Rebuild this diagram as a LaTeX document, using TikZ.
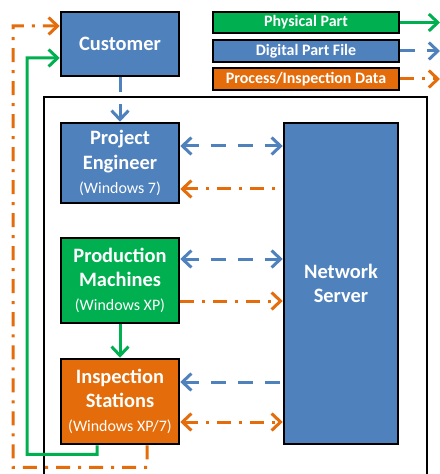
\documentclass[tikz,border=0pt]{standalone}
\usepackage{fontspec}
\setmainfont{Carlito}
\usetikzlibrary{arrows.meta,calc}
\definecolor{cblue}{RGB}{79,129,189}
\definecolor{cgreen}{RGB}{0,176,80}
\definecolor{corange}{RGB}{228,108,10}
\newcommand\winver[1]{{\fontsize{16}{20}\selectfont\mdseries #1}}
\tikzset{
  box/.style={draw=black, line width=2.5bp, text=white, align=center,
    font=\fontsize{20.5}{24.5}\selectfont\bfseries, minimum width=118bp, inner sep=0pt},
  legbox/.style={draw=black, line width=2.5bp, text=white,
    font=\fontsize{16}{18}\selectfont\bfseries, minimum width=186bp,
    minimum height=21bp, inner sep=0pt},
  barb/.tip={Straight Barb[length=9bp,width=17bp]},
  physical/.style={draw=cgreen, line width=3bp},
  digital/.style={draw=cblue, line width=3bp, dash pattern=on 15bp off 12bp},
  process/.style={draw=corange, line width=3bp, dash pattern=on 14bp off 8bp on 3bp off 8bp},
  frame/.style={draw=black, line width=2bp},
}
\begin{document}
\begin{tikzpicture}[x=1bp,y=-1bp]
\useasboundingbox (0,0) rectangle (440,474);
\clip (0,0) rectangle (440,474);
\fill[white] (0,0) rectangle (440,474);
% frame
\draw[frame] (44,97) rectangle (427,500);
% nodes
\node[box, fill=cblue, minimum height=64bp] (cust) at (120,44) {Customer};
\node[box, fill=cblue, minimum height=80bp] (pe) at (120,163) {Project\\Engineer\\\winver{(Windows 7)}};
\node[box, fill=cgreen, minimum height=85bp] (pm) at (120,280.5) {Production\\Machines\\\winver{(Windows XP)}};
\node[box, fill=corange, minimum height=85bp] (is) at (120,401.5) {Inspection\\Stations\\\winver{(Windows XP/7)}};
\node[box, fill=cblue, minimum width=114bp, minimum height=321bp] (ns) at (341,283.5) {Network\\Server};
% legend
\node[legbox, fill=cgreen] (lp) at (306,22.5) {Physical Part};
\node[legbox, fill=cblue, minimum height=22bp] (ld) at (306,51) {Digital Part File};
\node[legbox, fill=corange, minimum height=22bp] (lo) at (306,79) {Process/Inspection Data};
\coordinate (lpe) at (440,22.5);
\coordinate (lde) at (440,51);
\coordinate (loe) at (440,79);
\draw[physical, -{barb}] (lp.east) -- (lpe);
\draw[digital, -{barb}] (ld.east) -- (lde);
\draw[process, -{barb}] (lo.east) -- (loe);
% connectors
\draw[digital, -{barb}] (cust.south) -- (pe.north);
\draw[digital, {barb}-{barb}] ([yshift=17bp]pe.east) -- ([yshift=17bp]pe.east -| ns.west);
\draw[process, {barb}-] ([yshift=-26bp]pe.east) -- ([yshift=-26bp]pe.east -| ns.west);
\draw[digital, {barb}-{barb}] ([yshift=21.5bp]pm.east) -- ([yshift=21.5bp]pm.east -| ns.west);
\draw[process, -{barb}] ([yshift=-20.5bp]pm.east) -- ([yshift=-20.5bp]pm.east -| ns.west);
\draw[physical, -{barb}] (pm.south) -- (is.north);
\draw[digital, {barb}-] ([yshift=19.5bp]is.east) -- ([yshift=19.5bp]is.east -| ns.west);
\draw[process, {barb}-{barb}] ([yshift=-20.5bp]is.east) -- ([yshift=-20.5bp]is.east -| ns.west);
% return paths
\draw[physical, -{barb}] ([xshift=-23bp]is.south) -- ++(0,9) -| (27,58) -- ([yshift=-14bp]cust.west);
\draw[process, -{barb}] ([xshift=27bp]is.south) -- ++(0,22) -| (13,26) -- ([yshift=18bp]cust.west);
\end{tikzpicture}
\end{document}
